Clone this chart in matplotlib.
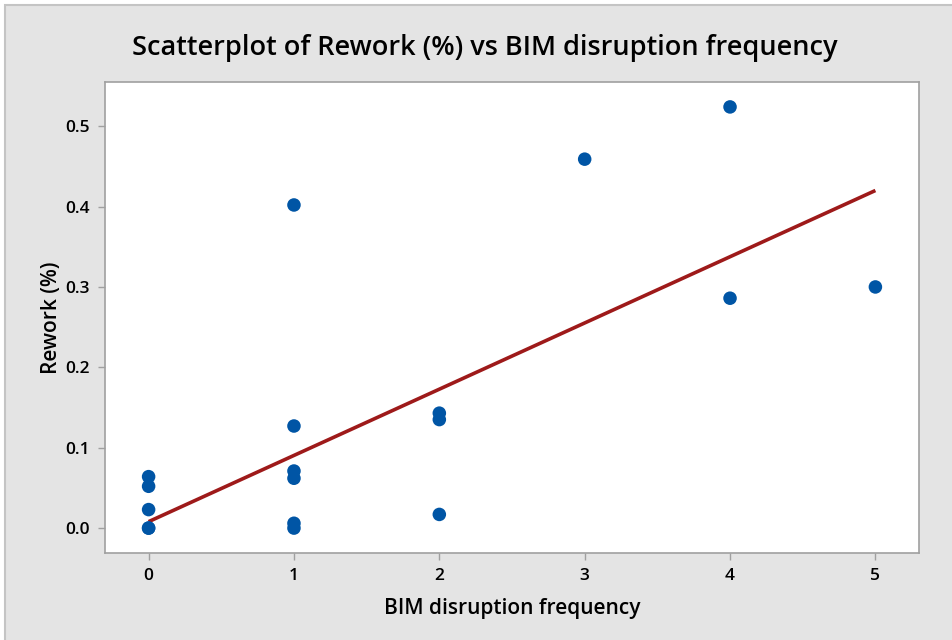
import matplotlib
matplotlib.use("Agg")
import matplotlib.pyplot as plt
from matplotlib.patches import Rectangle

# Observations: BIM disruption frequency vs rework (%)
disruption_freq = [0, 0, 0, 0, 0,
                   1, 1, 1, 1, 1, 1,
                   2, 2, 2,
                   3,
                   4, 4,
                   5]
rework_pct = [0.000, 0.000, 0.023, 0.052, 0.064,
              0.402, 0.127, 0.071, 0.062, 0.006, 0.000,
              0.143, 0.135, 0.017,
              0.459,
              0.524, 0.286,
              0.300]

# Fitted regression line end points
fit_x = [0, 5]
fit_y = [0.008, 0.420]

x_ticks = [0, 1, 2, 3, 4, 5]
y_ticks = [0.0, 0.1, 0.2, 0.3, 0.4, 0.5]

plt.rcParams["font.family"] = ["Open Sans", "DejaVu Sans"]

W, H = 952, 640
fig = plt.figure(figsize=(W / 100, H / 100), dpi=100, facecolor="white")

# Grey outer panel
panel = Rectangle((5 / W, -0.05), 1 - 5 / W + 0.05, (H - 5) / H + 0.05, transform=fig.transFigure,
                  facecolor="#e4e4e4", edgecolor="#c4c4c4", linewidth=1.5, zorder=-10)
fig.patches.append(panel)

left, right, top, bottom = 105, 919, 82, 553
ax = fig.add_axes([left / W, 1 - bottom / H, (right - left) / W, (bottom - top) / H])
ax.set_facecolor("white")

ax.plot(fit_x, fit_y, color="#9e1a1a", linewidth=2.6, zorder=2, solid_capstyle="butt")
ax.scatter(disruption_freq, rework_pct, s=95, color="#0055a5", edgecolors="none", zorder=3)

ax.set_xlim(-0.3, 5.3)
ax.set_ylim(-0.031, 0.555)
ax.set_xticks(x_ticks)
ax.set_xticklabels([str(v) for v in x_ticks])
ax.set_yticks(y_ticks)
ax.set_yticklabels([f"{v:.1f}" for v in y_ticks])

for s in ax.spines.values():
    s.set_color("#a0a0a0")
    s.set_linewidth(1.2)

ax.tick_params(axis="both", colors="#a0a0a0", labelcolor="black", length=5, width=1,
               labelsize=12.5, pad=6)
for lbl in ax.get_xticklabels() + ax.get_yticklabels():
    lbl.set_fontweight("semibold")

ax.set_xlabel("BIM disruption frequency", fontsize=15, fontweight="semibold", labelpad=10)
ax.set_ylabel("Rework (%)", fontsize=15, fontweight="semibold", labelpad=0)
ax.yaxis.set_label_coords((62 - left) / (right - left), 0.5)

fig.text(485 / W, 1 - 48 / H, "Scatterplot of Rework (%) vs BIM disruption frequency",
         ha="center", va="center", fontsize=19.5, fontweight="semibold")

fig.savefig("out.png", dpi=100, facecolor=fig.get_facecolor())
